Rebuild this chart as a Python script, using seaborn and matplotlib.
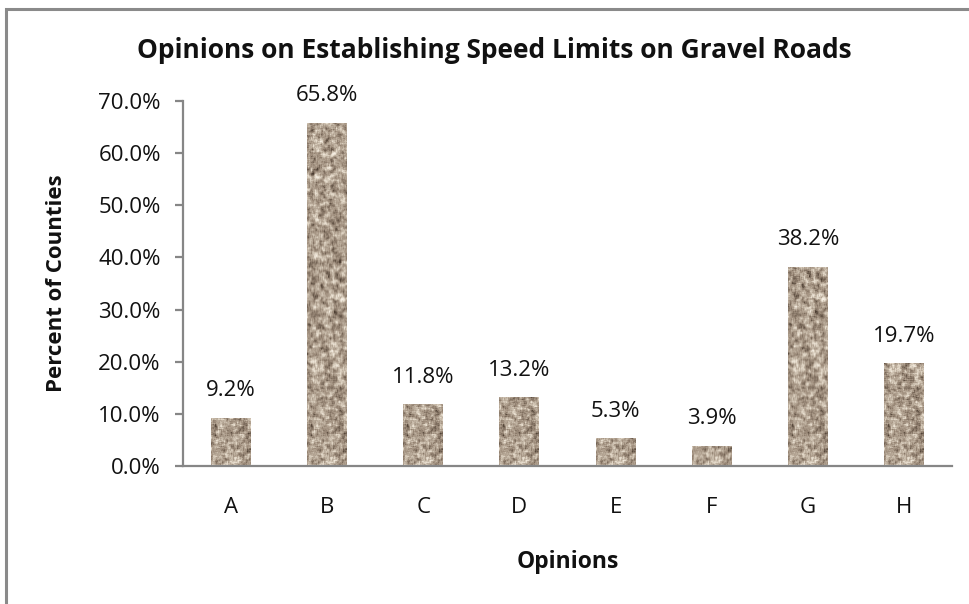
import numpy as np
import pandas as pd
import matplotlib
matplotlib.use("Agg")
import matplotlib.pyplot as plt
import seaborn as sns
from matplotlib.colors import LinearSegmentedColormap
from matplotlib.patches import Rectangle
from matplotlib.ticker import FuncFormatter

# ---- data ----
categories = ["A", "B", "C", "D", "E", "F", "G", "H"]
percents = [9.2, 65.8, 11.8, 13.2, 5.3, 3.9, 38.2, 19.7]
y_ticks = [0, 10, 20, 30, 40, 50, 60, 70]
title = "Opinions on Establishing Speed Limits on Gravel Roads"
x_label = "Opinions"
y_label = "Percent of Counties"

sns.set_theme(style="white")
plt.rcParams["font.family"] = ["Open Sans", "DejaVu Sans"]

W, H = 970, 604
fig = plt.figure(figsize=(W / 100, H / 100), dpi=100)
fig.patch.set_facecolor("white")

# outer chart frame (only top/left visible in reference)
fig.patches.append(Rectangle((6.5 / W, -0.1), 1.2, 1 - 9 / H + 0.1,
                             transform=fig.transFigure, fill=False,
                             edgecolor="#8a8a8a", linewidth=2.2, zorder=0))

ax = fig.add_axes([183 / W, 1 - 466 / H, (952 - 183) / W, (466 - 101) / H])
df = pd.DataFrame({"Opinion": categories, "Percent": percents})
sns.barplot(data=df, x="Opinion", y="Percent", color="#a89888", saturation=1,
            width=0.415, ax=ax, linewidth=0)

# ---- gravel texture (deterministic hash noise, styling only) ----
def hash_noise(h, w, s):
    yy, xx = np.mgrid[0:h, 0:w].astype(float)
    v = np.sin(xx * 12.9898 + yy * 78.233 + s * 37.719) * 43758.5453
    return v - np.floor(v)

def blur(a, k):
    kern = np.ones(k) / k
    a = np.apply_along_axis(lambda r: np.convolve(r, kern, mode="same"), 1, a)
    a = np.apply_along_axis(lambda c: np.convolve(c, kern, mode="same"), 0, a)
    return a

TH, TW = 380, 44
pad = 8
big = blur(hash_noise(TH + 2 * pad, TW + 2 * pad, 1.0), 5)[pad:-pad, pad:-pad]
mid = blur(hash_noise(TH + 2 * pad, TW + 2 * pad, 3.0), 3)[pad:-pad, pad:-pad]
fine = hash_noise(TH, TW, 2.0)
z = lambda a: (a - a.mean()) / a.std()
tex = 0.6 * z(big) + 0.5 * z(mid) + 0.15 * z(fine)
tex = np.clip(0.5 + tex * 0.2, 0, 1)
cmap = LinearSegmentedColormap.from_list(
    "gravel", ["#45372c", "#7a6a5b", "#a08f7e", "#bcae9d", "#e0d5c5", "#f6efe4"])

ymax = 70.0
for p in list(ax.patches):
    x0, w, h = p.get_x(), p.get_width(), p.get_height()
    rows = max(2, int(round(h / ymax * 365)))
    sub = tex[TH - rows:, :40]
    im = ax.imshow(sub, extent=(x0, x0 + w, 0, h), cmap=cmap, vmin=0, vmax=1,
                   aspect="auto", interpolation="bilinear", zorder=2.5)
    im.set_clip_path(p)

ax.set_xlim(-0.5, len(categories) - 0.5)
ax.set_ylim(0, 70)
ax.set_yticks(y_ticks)
ax.yaxis.set_major_formatter(FuncFormatter(lambda v, _: f"{v:.1f}%"))

# value labels
for i, v in enumerate(percents):
    ax.annotate(f"{v:.1f}%", (i, v), xytext=(0, 19.5), textcoords="offset points",
                ha="center", va="center", fontsize=16, color="#111111")

# spines & ticks
for s in ["top", "right"]:
    ax.spines[s].set_visible(False)
for s in ["left", "bottom"]:
    ax.spines[s].set_color("#868686")
    ax.spines[s].set_linewidth(1.6)
ax.set_xticks(np.arange(-0.5, len(categories), 1), minor=True)
ax.tick_params(axis="x", which="major", length=0, pad=22, labelsize=16, labelcolor="#111111")
ax.tick_params(axis="x", which="minor", length=6, width=1.6, color="#868686", direction="out")
ax.tick_params(axis="y", which="major", length=6, width=1.6, color="#868686", direction="out",
               left=True, pad=10, labelsize=16, labelcolor="#111111")

ax.set_xlabel(x_label, fontsize=16.5, fontweight="bold", color="#111111")
ax.xaxis.set_label_coords(0.5, -0.263)
ax.xaxis.label.set_verticalalignment("center")
ax.set_ylabel(y_label, fontsize=16, fontweight="bold", color="#111111")
ax.yaxis.set_label_coords(-(183 - 57) / (952 - 183), 0.5)
ax.yaxis.label.set_verticalalignment("center")

fig.text(494 / W, 1 - 50 / H, title, ha="center", va="center",
         fontsize=19, fontweight="bold", color="#111111")

fig.savefig("out.png", dpi=100, facecolor="white")
